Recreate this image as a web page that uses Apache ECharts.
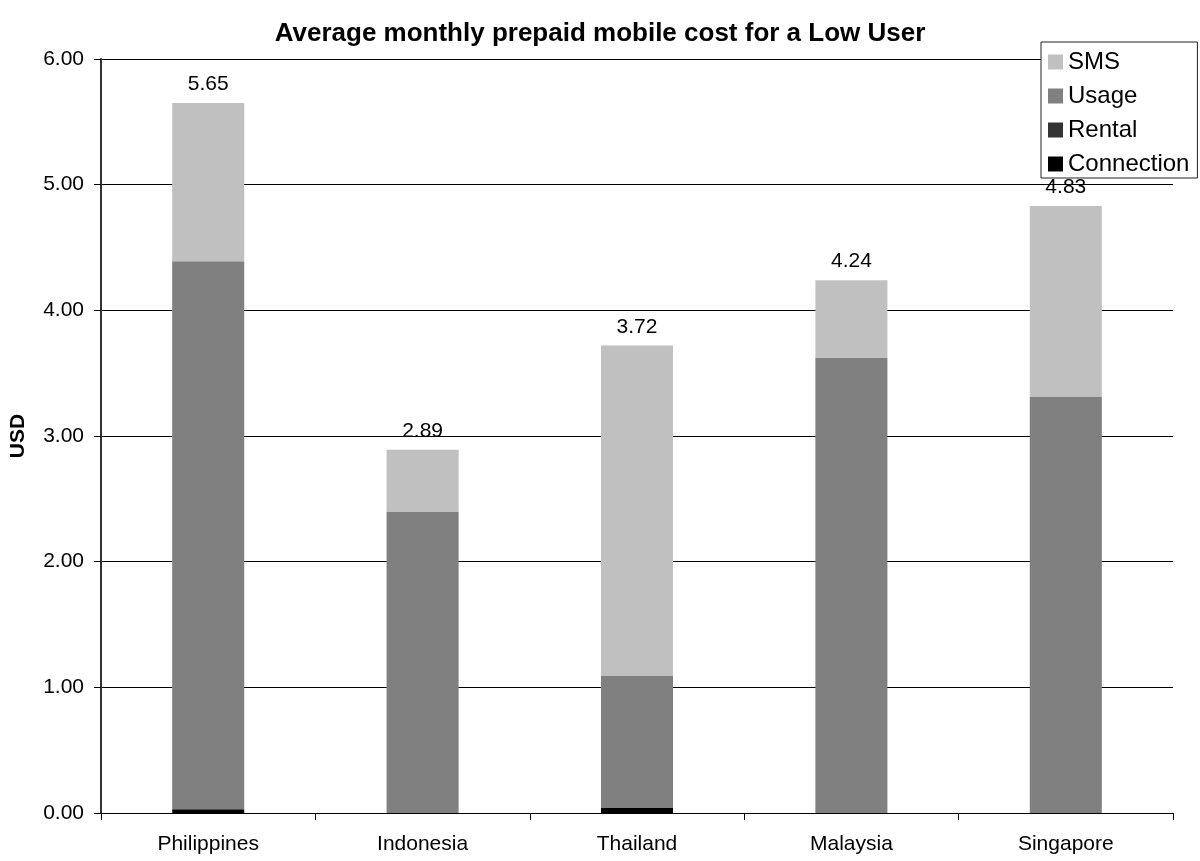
<!DOCTYPE html>
<html><head><meta charset="utf-8">
<script src="https://cdn.jsdelivr.net/npm/echarts@6/dist/echarts.min.js"></script>
<style>html,body{margin:0;padding:0;background:#fff}#c{width:1200px;height:861px}</style>
</head><body><div id="c"></div>
<script>
const categories = ['Philippines','Indonesia','Thailand','Malaysia','Singapore'];
const connection = [0.03, 0, 0.04, 0, 0];
const rental = [0, 0, 0, 0, 0];
const usage = [4.36, 2.40, 1.05, 3.62, 3.31];
const sms = [1.26, 0.49, 2.63, 0.62, 1.52];
const totals = [5.65, 2.89, 3.72, 4.24, 4.83];
const yTicks = [0, 1, 2, 3, 4, 5, 6];

const font = 'Liberation Sans, Arial, sans-serif';
const chart = echarts.init(document.getElementById('c'));
const barW = '33.6%';
chart.setOption({
  backgroundColor: '#fff',
  animation: false,
  textStyle: { fontFamily: font },
  title: {
    text: 'Average monthly prepaid mobile cost for a Low User',
    left: 'center', top: 16,
    textStyle: { fontFamily: font, fontSize: 26, fontWeight: 'bold', color: '#000' }
  },
  grid: { left: 101, right: 27, top: 59, bottom: 48 },
  legend: {
    orient: 'vertical', left: 1041, top: 42,
    data: ['SMS','Usage','Rental','Connection'],
    itemWidth: 15, itemHeight: 15, itemGap: 10,
    padding: [8, 8, 2, 7],
    borderColor: '#222', borderWidth: 1, backgroundColor: '#fff',
    icon: 'rect',
    textStyle: { fontFamily: font, fontSize: 24, color: '#000' }
  },
  xAxis: {
    type: 'category', data: categories,
    axisLine: { lineStyle: { color: '#000', width: 1 } },
    axisTick: { show: true, alignWithLabel: false, length: 7, lineStyle: { color: '#000' } },
    axisLabel: { fontFamily: font, fontSize: 21, color: '#000', margin: 21 }
  },
  yAxis: {
    type: 'value', min: yTicks[0], max: yTicks[yTicks.length-1], interval: 1,
    name: 'USD', nameLocation: 'middle', nameGap: 72, nameRotate: 90,
    nameTextStyle: { fontFamily: font, fontSize: 21, fontWeight: 'bold', color: '#000' },
    axisLine: { show: true, lineStyle: { color: '#333', width: 2 } },
    axisTick: { show: true, length: 7, lineStyle: { color: '#000' } },
    axisLabel: { fontFamily: font, fontSize: 21, color: '#000', margin: 17, formatter: v => v.toFixed(2) },
    splitLine: { show: true, lineStyle: { color: '#000', width: 1 } }
  },
  series: [
    { name: 'Connection', type: 'bar', stack: 't', data: connection, barWidth: barW, itemStyle: { color: '#000000' } },
    { name: 'Rental', type: 'bar', stack: 't', data: rental, barWidth: barW, itemStyle: { color: '#333333' } },
    { name: 'Usage', type: 'bar', stack: 't', data: usage, barWidth: barW, itemStyle: { color: '#808080' } },
    { name: 'SMS', type: 'bar', stack: 't', data: sms, barWidth: barW, itemStyle: { color: '#c0c0c0' },
      label: { show: true, position: 'top', distance: 8, fontFamily: font, fontSize: 21, color: '#000',
        formatter: p => totals[p.dataIndex].toFixed(2) } }
  ]
});
</script></body></html>
